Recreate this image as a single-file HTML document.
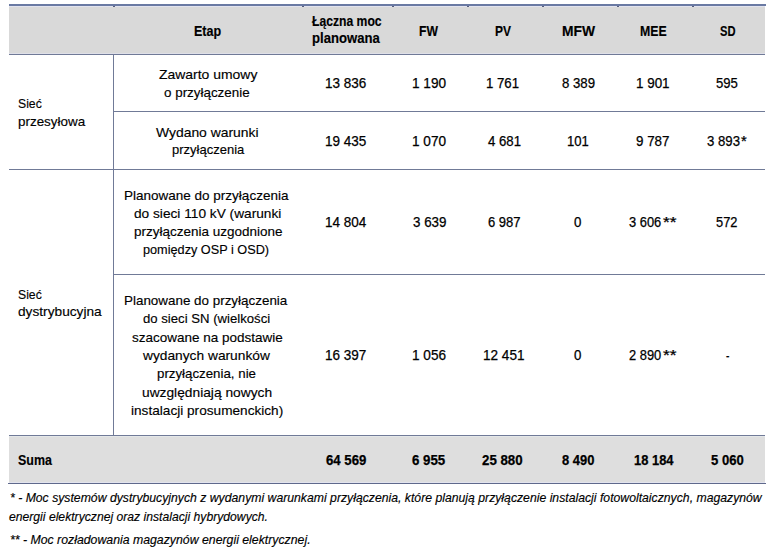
<!DOCTYPE html>
<html><head><meta charset="utf-8"><style>
html,body{margin:0;padding:0;background:#fff;width:767px;height:553px;overflow:hidden;}
body{position:relative;font-family:"Liberation Sans",sans-serif;color:#000000;}
.r{position:absolute;}
.t{position:absolute;white-space:nowrap;transform-origin:0 0;-webkit-text-stroke:0.15px #000000;}
</style></head><body>
<div class="r" style="left:9px;top:6px;width:756px;height:48px;background:#d9d9d9"></div>
<div class="r" style="left:9px;top:6px;width:756px;height:1px;background:#e2e3ee"></div>
<div class="r" style="left:9px;top:4px;width:757px;height:2px;background:#6a7aa3"></div>
<div class="r" style="left:113px;top:6px;width:2px;height:1px;background:#555d7e"></div>
<div class="r" style="left:302px;top:6px;width:2px;height:1px;background:#555d7e"></div>
<div class="r" style="left:392px;top:6px;width:2px;height:1px;background:#555d7e"></div>
<div class="r" style="left:467px;top:6px;width:2px;height:1px;background:#555d7e"></div>
<div class="r" style="left:542px;top:6px;width:2px;height:1px;background:#555d7e"></div>
<div class="r" style="left:617px;top:6px;width:2px;height:1px;background:#555d7e"></div>
<div class="r" style="left:692px;top:6px;width:2px;height:1px;background:#555d7e"></div>
<div class="r" style="left:9px;top:53px;width:756px;height:1px;background:#dfe0e9"></div>
<div class="r" style="left:9px;top:54px;width:756px;height:1px;background:#707a97"></div>
<div class="r" style="left:113px;top:55px;width:1px;height:380px;background:#707a97"></div>
<div class="r" style="left:113px;top:111px;width:652px;height:1px;background:#707a97"></div>
<div class="r" style="left:9px;top:169px;width:756px;height:1px;background:#707a97"></div>
<div class="r" style="left:113px;top:274px;width:652px;height:1px;background:#707a97"></div>
<div class="r" style="left:9px;top:435px;width:756px;height:1px;background:#707a97"></div>
<div class="r" style="left:9px;top:436px;width:756px;height:47px;background:#dedede"></div>
<div class="r" style="left:9px;top:482px;width:756px;height:1px;background:#e3e4ee"></div>
<div class="r" style="left:9px;top:436px;width:756px;height:1px;background:#e4e7e8"></div>
<div class="r" style="left:8px;top:483px;width:758px;height:1px;background:#5f698c"></div>
<div class="t" style="left:193.58px;top:22.82px;font-size:13.80px;line-height:18px;transform:scaleX(0.9083);font-weight:700;">Etap</div>
<div class="t" style="left:312.39px;top:13.02px;font-size:13.80px;line-height:18px;transform:scaleX(0.8816);font-weight:700;">Łączna moc</div>
<div class="t" style="left:312.21px;top:30.22px;font-size:13.80px;line-height:18px;transform:scaleX(0.9505);font-weight:700;">planowana</div>
<div class="t" style="left:418.59px;top:22.72px;font-size:13.80px;line-height:18px;transform:scaleX(0.8809);font-weight:700;">FW</div>
<div class="t" style="left:495.42px;top:22.72px;font-size:13.80px;line-height:18px;transform:scaleX(0.8680);font-weight:700;">PV</div>
<div class="t" style="left:561.65px;top:22.72px;font-size:13.80px;line-height:18px;transform:scaleX(1.0023);font-weight:700;">MFW</div>
<div class="t" style="left:639.74px;top:22.62px;font-size:13.80px;line-height:18px;transform:scaleX(0.8918);font-weight:700;">MEE</div>
<div class="t" style="left:719.69px;top:22.62px;font-size:13.80px;line-height:18px;transform:scaleX(0.8077);font-weight:700;">SD</div>
<div class="t" style="left:18.21px;top:95.39px;font-size:13.60px;line-height:18px;transform:scaleX(0.8977);">Sieć</div>
<div class="t" style="left:18.20px;top:112.89px;font-size:13.60px;line-height:18px;transform:scaleX(0.9869);">przesyłowa</div>
<div class="t" style="left:18.21px;top:285.69px;font-size:13.60px;line-height:18px;transform:scaleX(0.8977);">Sieć</div>
<div class="t" style="left:18.20px;top:303.49px;font-size:13.60px;line-height:18px;transform:scaleX(1.0072);">dystrybucyjna</div>
<div class="t" style="left:158.52px;top:66.19px;font-size:13.60px;line-height:18px;transform:scaleX(1.0256);">Zawarto umowy</div>
<div class="t" style="left:164.28px;top:83.79px;font-size:13.60px;line-height:18px;transform:scaleX(0.9856);">o przyłączenie</div>
<div class="t" style="left:325.45px;top:74.11px;font-size:14.10px;line-height:18px;transform:scaleX(0.9581);-webkit-text-stroke:0.25px #000000;">13 836</div>
<div class="t" style="left:411.53px;top:74.11px;font-size:14.10px;line-height:18px;transform:scaleX(0.9657);-webkit-text-stroke:0.25px #000000;">1 190</div>
<div class="t" style="left:486.47px;top:74.11px;font-size:14.10px;line-height:18px;transform:scaleX(0.9363);-webkit-text-stroke:0.25px #000000;">1 761</div>
<div class="t" style="left:561.57px;top:74.11px;font-size:14.10px;line-height:18px;transform:scaleX(0.9367);-webkit-text-stroke:0.25px #000000;">8 389</div>
<div class="t" style="left:635.55px;top:74.11px;font-size:14.10px;line-height:18px;transform:scaleX(0.9523);-webkit-text-stroke:0.25px #000000;">1 901</div>
<div class="t" style="left:716.21px;top:74.11px;font-size:14.10px;line-height:18px;transform:scaleX(0.9306);-webkit-text-stroke:0.25px #000000;">595</div>
<div class="t" style="left:156.37px;top:123.79px;font-size:13.60px;line-height:18px;transform:scaleX(1.0222);">Wydano warunki</div>
<div class="t" style="left:171.51px;top:141.29px;font-size:13.60px;line-height:18px;transform:scaleX(0.9573);">przyłączenia</div>
<div class="t" style="left:325.45px;top:132.11px;font-size:14.10px;line-height:18px;transform:scaleX(0.9581);-webkit-text-stroke:0.25px #000000;">19 435</div>
<div class="t" style="left:411.53px;top:132.11px;font-size:14.10px;line-height:18px;transform:scaleX(0.9657);-webkit-text-stroke:0.25px #000000;">1 070</div>
<div class="t" style="left:487.51px;top:132.11px;font-size:14.10px;line-height:18px;transform:scaleX(0.9367);-webkit-text-stroke:0.25px #000000;">4 681</div>
<div class="t" style="left:567.45px;top:132.11px;font-size:14.10px;line-height:18px;transform:scaleX(0.9275);-webkit-text-stroke:0.25px #000000;">101</div>
<div class="t" style="left:636.43px;top:132.11px;font-size:14.10px;line-height:18px;transform:scaleX(0.9487);-webkit-text-stroke:0.25px #000000;">9 787</div>
<div class="t" style="left:707.19px;top:132.11px;font-size:14.10px;line-height:18px;transform:scaleX(0.9342);-webkit-text-stroke:0.25px #000000;">3 893</div>
<div class="t" style="left:741.27px;top:132.11px;font-size:14.10px;line-height:18px;transform:scaleX(1.0432);-webkit-text-stroke:0.25px #000000;">*</div>
<div class="t" style="left:124.33px;top:186.99px;font-size:13.60px;line-height:18px;transform:scaleX(0.9935);">Planowane do przyłączenia</div>
<div class="t" style="left:133.56px;top:205.09px;font-size:13.60px;line-height:18px;transform:scaleX(1.0070);">do sieci 110 kV (warunki</div>
<div class="t" style="left:133.52px;top:222.69px;font-size:13.60px;line-height:18px;transform:scaleX(0.9924);">przyłączenia uzgodnione</div>
<div class="t" style="left:143.49px;top:240.59px;font-size:13.60px;line-height:18px;transform:scaleX(0.9341);">pomiędzy OSP i OSD)</div>
<div class="t" style="left:325.45px;top:213.41px;font-size:14.10px;line-height:18px;transform:scaleX(0.9581);-webkit-text-stroke:0.25px #000000;">14 804</div>
<div class="t" style="left:412.73px;top:213.41px;font-size:14.10px;line-height:18px;transform:scaleX(0.9487);-webkit-text-stroke:0.25px #000000;">3 639</div>
<div class="t" style="left:487.51px;top:213.41px;font-size:14.10px;line-height:18px;transform:scaleX(0.9237);-webkit-text-stroke:0.25px #000000;">6 987</div>
<div class="t" style="left:574.42px;top:213.41px;font-size:14.10px;line-height:18px;transform:scaleX(0.9415);-webkit-text-stroke:0.25px #000000;">0</div>
<div class="t" style="left:628.50px;top:213.41px;font-size:14.10px;line-height:18px;transform:scaleX(0.9142);-webkit-text-stroke:0.25px #000000;">3 606</div>
<div class="t" style="left:663.00px;top:213.41px;font-size:14.10px;line-height:18px;transform:scaleX(1.2284);-webkit-text-stroke:0.25px #000000;">**</div>
<div class="t" style="left:716.24px;top:213.41px;font-size:14.10px;line-height:18px;transform:scaleX(0.9099);-webkit-text-stroke:0.25px #000000;">572</div>
<div class="t" style="left:124.45px;top:291.79px;font-size:13.60px;line-height:18px;transform:scaleX(0.9866);">Planowane do przyłączenia</div>
<div class="t" style="left:143.21px;top:309.79px;font-size:13.60px;line-height:18px;transform:scaleX(0.9674);">do sieci SN (wielkości</div>
<div class="t" style="left:131.64px;top:328.79px;font-size:13.60px;line-height:18px;transform:scaleX(0.9917);">szacowane na podstawie</div>
<div class="t" style="left:143.00px;top:346.89px;font-size:13.60px;line-height:18px;transform:scaleX(1.0115);">wydanych warunków</div>
<div class="t" style="left:157.21px;top:364.89px;font-size:13.60px;line-height:18px;transform:scaleX(0.9775);">przyłączenia, nie</div>
<div class="t" style="left:142.35px;top:384.09px;font-size:13.60px;line-height:18px;transform:scaleX(1.0123);">uwzględniają nowych</div>
<div class="t" style="left:131.36px;top:401.69px;font-size:13.60px;line-height:18px;transform:scaleX(1.0024);">instalacji prosumenckich)</div>
<div class="t" style="left:325.45px;top:346.31px;font-size:14.10px;line-height:18px;transform:scaleX(0.9581);-webkit-text-stroke:0.25px #000000;">16 397</div>
<div class="t" style="left:411.53px;top:346.31px;font-size:14.10px;line-height:18px;transform:scaleX(0.9657);-webkit-text-stroke:0.25px #000000;">1 056</div>
<div class="t" style="left:482.54px;top:346.31px;font-size:14.10px;line-height:18px;transform:scaleX(0.9631);-webkit-text-stroke:0.25px #000000;">12 451</div>
<div class="t" style="left:574.42px;top:346.31px;font-size:14.10px;line-height:18px;transform:scaleX(0.9415);-webkit-text-stroke:0.25px #000000;">0</div>
<div class="t" style="left:628.50px;top:346.31px;font-size:14.10px;line-height:18px;transform:scaleX(0.9142);-webkit-text-stroke:0.25px #000000;">2 890</div>
<div class="t" style="left:663.00px;top:346.31px;font-size:14.10px;line-height:18px;transform:scaleX(1.2284);-webkit-text-stroke:0.25px #000000;">**</div>
<div class="t" style="left:726.28px;top:347.31px;font-size:14.10px;line-height:18px;transform:scaleX(0.7240);-webkit-text-stroke:0.25px #000000;">-</div>
<div class="t" style="left:18.00px;top:451.62px;font-size:13.80px;line-height:18px;transform:scaleX(0.9026);font-weight:700;">Suma</div>
<div class="t" style="left:326.34px;top:451.62px;font-size:13.80px;line-height:18px;transform:scaleX(0.9556);font-weight:700;-webkit-text-stroke:0.25px #000000;">64 569</div>
<div class="t" style="left:412.44px;top:451.62px;font-size:13.80px;line-height:18px;transform:scaleX(0.9627);font-weight:700;-webkit-text-stroke:0.25px #000000;">6 955</div>
<div class="t" style="left:482.49px;top:451.62px;font-size:13.80px;line-height:18px;transform:scaleX(0.9618);font-weight:700;-webkit-text-stroke:0.25px #000000;">25 880</div>
<div class="t" style="left:561.52px;top:451.62px;font-size:13.80px;line-height:18px;transform:scaleX(0.9380);font-weight:700;-webkit-text-stroke:0.25px #000000;">8 490</div>
<div class="t" style="left:633.51px;top:451.62px;font-size:13.80px;line-height:18px;transform:scaleX(0.9359);font-weight:700;-webkit-text-stroke:0.25px #000000;">18 184</div>
<div class="t" style="left:711.34px;top:451.62px;font-size:13.80px;line-height:18px;transform:scaleX(0.9487);font-weight:700;-webkit-text-stroke:0.25px #000000;">5 060</div>
<div class="t" style="left:10.28px;top:489.07px;font-size:12.20px;line-height:18px;transform:scaleX(1.0034);font-style:italic;">* - Moc systemów dystrybucyjnych z wydanymi warunkami przyłączenia, które planują przyłączenie instalacji fotowoltaicznych, magazynów</div>
<div class="t" style="left:9.28px;top:508.07px;font-size:12.20px;line-height:18px;transform:scaleX(0.9982);font-style:italic;">energii elektrycznej oraz instalacji hybrydowych.</div>
<div class="t" style="left:10.28px;top:531.07px;font-size:12.20px;line-height:18px;transform:scaleX(1.0085);font-style:italic;">** - Moc rozładowania magazynów energii elektrycznej.</div>
</body></html>
